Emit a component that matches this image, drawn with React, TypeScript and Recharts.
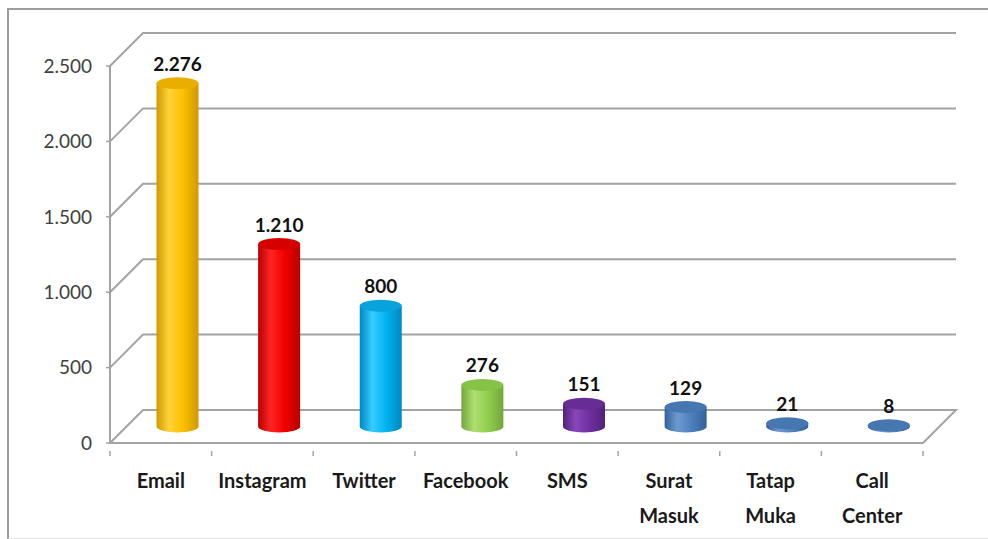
import React from 'react';
import { BarChart, Bar, XAxis, YAxis, CartesianGrid, LabelList } from 'recharts';

// Jumlah pengaduan per kanal
const categories = ['Email', 'Instagram', 'Twitter', 'Facebook', 'SMS', 'Surat Masuk', 'Tatap Muka', 'Call Center'];
const values = [2276, 1210, 800, 276, 151, 129, 21, 8];
const yTicks = [0, 500, 1000, 1500, 2000, 2500];

const palette = [
    { dark: '#CF9A00', light: '#FFD33A', base: '#FFC000', top: '#E9AE00' },
    { dark: '#B80000', light: '#FF2424', base: '#F20000', top: '#D60000' },
    { dark: '#0088C2', light: '#38CCFF', base: '#00B4F0', top: '#08A2DC' },
    { dark: '#72A63C', light: '#AEDE72', base: '#92D050', top: '#86C245' },
    { dark: '#52217C', light: '#8847BA', base: '#7030A0', top: '#682C96' },
    { dark: '#32629A', light: '#6E99D0', base: '#4F81BD', top: '#4777B0' },
    { dark: '#32629A', light: '#6E99D0', base: '#4F81BD', top: '#4777B0' },
    { dark: '#32629A', light: '#6E99D0', base: '#4F81BD', top: '#4777B0' },
];

const W = 988;
const H = 539;
const MARGIN = { top: 66, right: 65, left: 0, bottom: 6 };
const XAXIS_H = 90;
const FLOOR_Y = H - MARGIN.bottom - XAXIS_H;
const DEPTH = 33;
const GRID = '#a3a3a3';
const FONT = 'Lato, "Open Sans", sans-serif';

const data = categories.map((name, i) => ({ name, value: values[i] }));

const fmt = (v: number) => String(v).replace(/\B(?=(\d{3})+(?!\d))/g, '.');

const GridLine = (props: any) => {
    const { x1, y1, x2 } = props;
    let d = `M${x1},${y1} L${x1 + DEPTH},${y1 - DEPTH} L${x2 + DEPTH},${y1 - DEPTH}`;
    if (Math.abs(y1 - FLOOR_Y) < 1) d += ` L${x2},${y1}`;
    return <path key={props.key} d={d} fill="none" stroke={GRID} strokeWidth={2} />;
};

const Cylinder = (props: any) => {
    const { x, y, width, height, index } = props;
    const c = palette[index];
    const rx = width / 2;
    const ry = 6;
    const cx = x + rx + DEPTH / 2;
    const top = y - DEPTH / 2;
    const bot = y + height - DEPTH / 2;
    return (
        <g>
            <path
                d={`M${cx - rx},${top} L${cx - rx},${bot} A${rx},${ry} 0 0 0 ${cx + rx},${bot} L${cx + rx},${top} Z`}
                fill={`url(#cyl${index})`}
            />
            <ellipse cx={cx} cy={top} rx={rx} ry={ry} fill={c.top} />
        </g>
    );
};

const ValueLabel = (props: any) => {
    const { x, y, width, value } = props;
    return (
        <text
            x={x + width / 2 + DEPTH / 2}
            y={y - DEPTH / 2 - 20}
            textAnchor="middle"
            dominantBaseline="central"
            fontFamily={FONT}
            fontWeight={700}
            fontSize={19}
            fill="#111"
        >
            {fmt(value)}
        </text>
    );
};

const CategoryTick = (props: any) => {
    const { x, y, payload, index } = props;
    const half = payload.offset || 50.8;
    const words = String(payload.value).split(' ');
    return (
        <g>
            <line x1={x - half} y1={y} x2={x - half} y2={y + 5} stroke={GRID} strokeWidth={1.5} />
            {index === categories.length - 1 && (
                <line x1={x + half} y1={y} x2={x + half} y2={y + 5} stroke={GRID} strokeWidth={1.5} />
            )}
            {words.map((w, i) => (
                <text
                    key={i}
                    x={x}
                    y={FLOOR_Y + 37 + i * 35}
                    textAnchor="middle"
                    dominantBaseline="central"
                    fontFamily={FONT}
                    fontWeight={700}
                    fontSize={20}
                    fill="#1a1a1a"
                >
                    {w}
                </text>
            ))}
        </g>
    );
};

export default function App() {
    return (
        <div style={{ position: 'absolute', left: 0, top: 0, width: W, height: H, overflow: 'hidden', background: '#fff' }}>
            <div
                style={{
                    position: 'absolute',
                    left: 7,
                    top: 8,
                    width: 1000,
                    height: 528,
                    borderLeft: '2px solid #9d9d9d',
                    borderTop: '2px solid #9d9d9d',
                    borderBottom: '1px solid #e2e2e2',
                }}
            />
            <div style={{ position: 'absolute', left: 0, top: 0 }}>
                <BarChart width={W} height={H} data={data} margin={MARGIN}>
                    <defs>
                        {palette.map((c, i) => (
                            <linearGradient key={i} id={`cyl${i}`} x1="0" y1="0" x2="1" y2="0">
                                <stop offset="0%" stopColor={c.dark} />
                                <stop offset="30%" stopColor={c.light} />
                                <stop offset="62%" stopColor={c.base} />
                                <stop offset="100%" stopColor={c.dark} />
                            </linearGradient>
                        ))}
                    </defs>
                    <CartesianGrid vertical={false} horizontal={GridLine} />
                    <XAxis
                        dataKey="name"
                        height={XAXIS_H}
                        tickLine={false}
                        axisLine={{ stroke: GRID, strokeWidth: 2 }}
                        tick={CategoryTick}
                        interval={0}
                    />
                    <YAxis
                        width={110}
                        domain={[0, 2500]}
                        ticks={yTicks}
                        tickFormatter={fmt}
                        tickSize={4}
                        tickMargin={14}
                        tickLine={{ stroke: GRID, strokeWidth: 1.5 }}
                        axisLine={{ stroke: GRID, strokeWidth: 2 }}
                        tick={{ fill: '#404040', fontSize: 19, fontFamily: FONT }}
                    />
                    <Bar dataKey="value" barSize={42} shape={Cylinder} isAnimationActive={false}>
                        <LabelList dataKey="value" content={ValueLabel} />
                    </Bar>
                </BarChart>
            </div>
        </div>
    );
}
